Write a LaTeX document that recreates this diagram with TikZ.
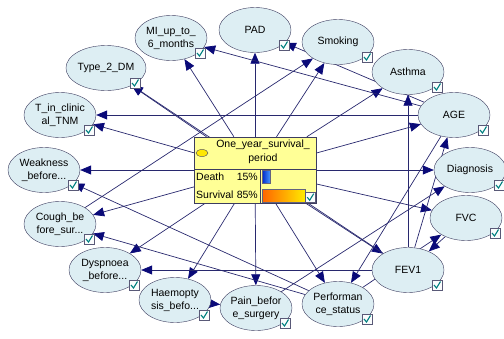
\documentclass[tikz,border=0pt]{standalone}
\usepackage{fontspec}
\setmainfont{Liberation Sans}
\usetikzlibrary{arrows.meta,calc,shapes.geometric,backgrounds}
\definecolor{bnFill}{RGB}{221,238,243}
\definecolor{bnLine}{RGB}{60,60,95}
\definecolor{bnLink}{RGB}{40,40,110}
\definecolor{bnHead}{RGB}{10,10,120}
\definecolor{bnBox}{RGB}{255,255,150}
\definecolor{bnTick}{RGB}{0,128,128}

\begin{document}
\begin{tikzpicture}[x=1pt,y=-1pt,
  var/.style={ellipse,draw=bnLine,fill=bnFill,minimum width=72pt,minimum height=45pt,inner sep=0pt,
    align=center,font=\fontsize{10.5}{13}\selectfont},
  txt/.style={inner sep=0pt,font=\fontsize{10.5}{14}\selectfont},
  link/.style={draw=bnLink,line width=0.7pt,-{Triangle[length=11pt,width=9pt,color=bnHead]}},
  chk/.style={draw=bnLine!85,fill=white!85!bnFill,line width=0.5pt},
  tick/.style={draw=bnTick,line width=1.1pt}]
\useasboundingbox (0,0) rectangle (504,338);
\node[var] (mi) at (171,38) {MI\_up\_to\_\\6\_months};
\node[var] (pad) at (255,30) {PAD};
\node[var] (smoking) at (338,42) {Smoking};
\node[var] (asthma) at (408,72) {Asthma};
\node[var] (age) at (454,115) {AGE};
\node[var] (diag) at (470,170) {Diagnosis};
\node[var] (fvc) at (466,218) {FVC};
\node[var] (fev) at (408,270) {FEV1};
\node[var] (perf) at (338,304) {Performan\\ce\_status};
\node[var] (pain) at (256,308) {Pain\_befor\\e\_surgery};
\node[var] (haem) at (175,300) {Haemopty\\sis\_befo...};
\node[var] (dysp) at (105,270) {Dyspnoea\\\_before...};
\node[var] (cough) at (60,224) {Cough\_be\\fore\_sur...};
\node[var] (weak) at (44,170) {Weakness\\\_before...};
\node[var] (tnm) at (60,115) {T\_in\_clinic\\al\_TNM};
\node[var] (dm) at (106,68) {Type\_2\_DM};
\node[draw=bnLine,fill=bnBox,minimum width=122pt,minimum height=66pt,inner sep=0pt] (surv) at (255,170) {};
\draw[bnLine] (194,169) -- (316,169) (260,169) -- (260,203);
\draw[draw=bnLine,fill=yellow!90!orange] (202,153) ellipse [x radius=6pt,y radius=3.5pt];
\node[txt,align=center] (survtitle) at (263,152) {One\_year\_survival\_\\period};
\node[txt,anchor=west] (death) at (196,177) {Death};
\node[txt,anchor=east] (deathpc) at (258,177) {15\%};
\node[txt,anchor=west] (alive) at (196,195) {Survival};
\node[txt,anchor=east] (alivepc) at (258,195) {85\%};
\shadedraw[draw=bnLine!80,left color={rgb,255:red,0;green,40;blue,200},right color={rgb,255:red,70;green,150;blue,255}] (262,170) rectangle (270,183);
\shadedraw[draw=bnLine!80,left color={rgb,255:red,255;green,100;blue,0},right color={rgb,255:red,255;green,235;blue,0}] (262,189) rectangle (305,202);
\draw[chk] ($(surv.south east)+(-11,-11)$) rectangle ++(10,10);
\draw[tick] ($(surv.south east)+(-9,-6)$) -- ++(2.5,3) -- ++(4,-6.5);
\foreach \n in {mi,pad,smoking,asthma,age,diag,fvc,fev,perf,pain,haem,dysp,cough,weak,tnm,dm}{
  \draw[chk] ($(\n)+(24,10)$) rectangle ++(10,10);
  \draw[tick] ($(\n)+(26,15)$) -- ++(2.5,3) -- ++(4,-6.5);
}
\begin{scope}[on background layer]
\foreach \a/\b in {surv/tnm,surv/dm,surv/mi,surv/pad,surv/smoking,surv/asthma,surv/age,surv/diag,
    surv/fvc,surv/fev,surv/perf,surv/pain,surv/haem,surv/dysp,surv/cough,surv/weak,
    age/tnm,age/mi,age/pad,age/perf,fev/dm,fev/asthma,fev/dysp,fev/age,
    cough/smoking,perf/weak,perf/cough,perf/fvc,haem/pain,pain/diag,fvc/fev}
  \draw[link] (\a) -- (\b);
\end{scope}
\end{tikzpicture}
\end{document}
